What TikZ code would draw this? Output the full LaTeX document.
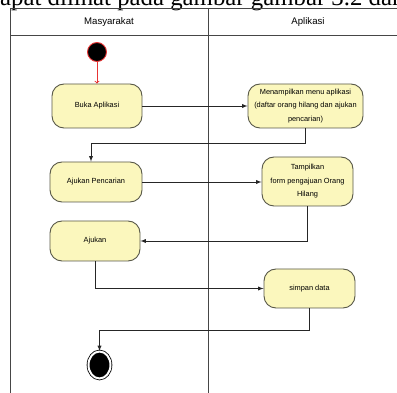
\documentclass[tikz,border=0pt]{standalone}
\usepackage{fontspec}
\setmainfont{Liberation Serif}
\newfontfamily\lanefont{Liberation Sans}
\usepackage{tikz}
\usetikzlibrary{shapes.geometric,arrows,positioning,calc}

\definecolor{actfill}{RGB}{251,247,189}
\definecolor{actedge}{RGB}{88,88,72}
\definecolor{laneline}{RGB}{70,70,70}
\definecolor{initred}{RGB}{232,52,52}

\tikzset{
  lane/.style={draw=laneline,line width=0.9pt},
  lanehead/.style={font=\lanefont\fontsize{9.6}{11}\selectfont,inner sep=0pt},
  act/.style={draw=actedge,fill=actfill,rounded corners=12pt,line width=0.9pt,
    align=center,inner sep=0pt,font=\lanefont\fontsize{7.4}{13.5}\selectfont},
  flow/.style={-latex,line width=0.9pt,draw=black!85},
}

\begin{document}
\begin{tikzpicture}[x=1pt,y=-1pt]
      \useasboundingbox (0,0) rectangle (397,393);
      \clip (0,0) rectangle (397,393);

      \node[anchor=base west,inner sep=0pt,font=\fontsize{24.8}{24.8}\selectfont] (caption) at (-12.4,5.5) {dapat dilihat pada gambar gambar 3.2 dan};

      \draw[lane] (10,393) -- (10,8) -- (397,8);
      \draw[lane] (10,35) -- (397,35);
      \draw[lane] (208,8) -- (208,393);

      \node[lanehead] (masy) at (109,22) {Masyarakat};
      \node[lanehead] (apl) at (308,22) {Aplikasi};

      \coordinate (s) at (97,52);
      \coordinate (m1) at (97,106);
      \coordinate (a1) at (305.5,106);
      \coordinate (m2) at (96,182);
      \coordinate (a2) at (307.5,181.5);
      \coordinate (m3) at (95,241);
      \coordinate (a3) at (309.5,288.5);
      \coordinate (f) at (99.5,365);

      \node[circle,fill=black,draw=initred,line width=0.9pt,minimum size=19pt,inner sep=0pt] (start) at (s) {};

      \node[act,minimum width=90pt,minimum height=44pt] (buka) at (m1) {Buka Aplikasi};
      \node[act,minimum width=115pt,minimum height=44pt] (menu) at (a1) {Menampilkan menu aplikasi\\(daftar orang hilang dan ajukan\\pencarian)};
      \node[act,minimum width=92pt,minimum height=40pt] (cari) at (m2) {Ajukan Pencarian};
      \node[act,minimum width=91pt,minimum height=49pt] (form) at (a2) {Tampilkan\\form pengajuan Orang\\Hilang};
      \node[act,minimum width=90pt,minimum height=40pt] (ajukan) at (m3) {Ajukan};
      \node[act,minimum width=91pt,minimum height=39pt] (simpan) at (a3) {simpan data};

      \node[ellipse,fill=black,draw=black,double=white,double distance=2pt,line width=0.8pt,minimum width=22pt,minimum height=27pt,inner sep=0pt] (final) at (f) {};

      \coordinate (k1) at (91,143);
      \coordinate (k2) at (99.5,330);

      \draw[->,draw=initred,line width=0.9pt] (start) -- (buka);
      \draw[flow] (buka) -- (menu);
      \draw[flow] (menu.south) |- (k1) -- (k1 |- cari.north);
      \draw[flow] (cari) -- (cari -| form.west);
      \draw[flow] (form.south) |- (ajukan.east);
      \draw[flow] (ajukan.south) |- (simpan.west);
      \draw[flow] (simpan.south) |- (k2) -- (final);

    \end{tikzpicture}
\end{document}
